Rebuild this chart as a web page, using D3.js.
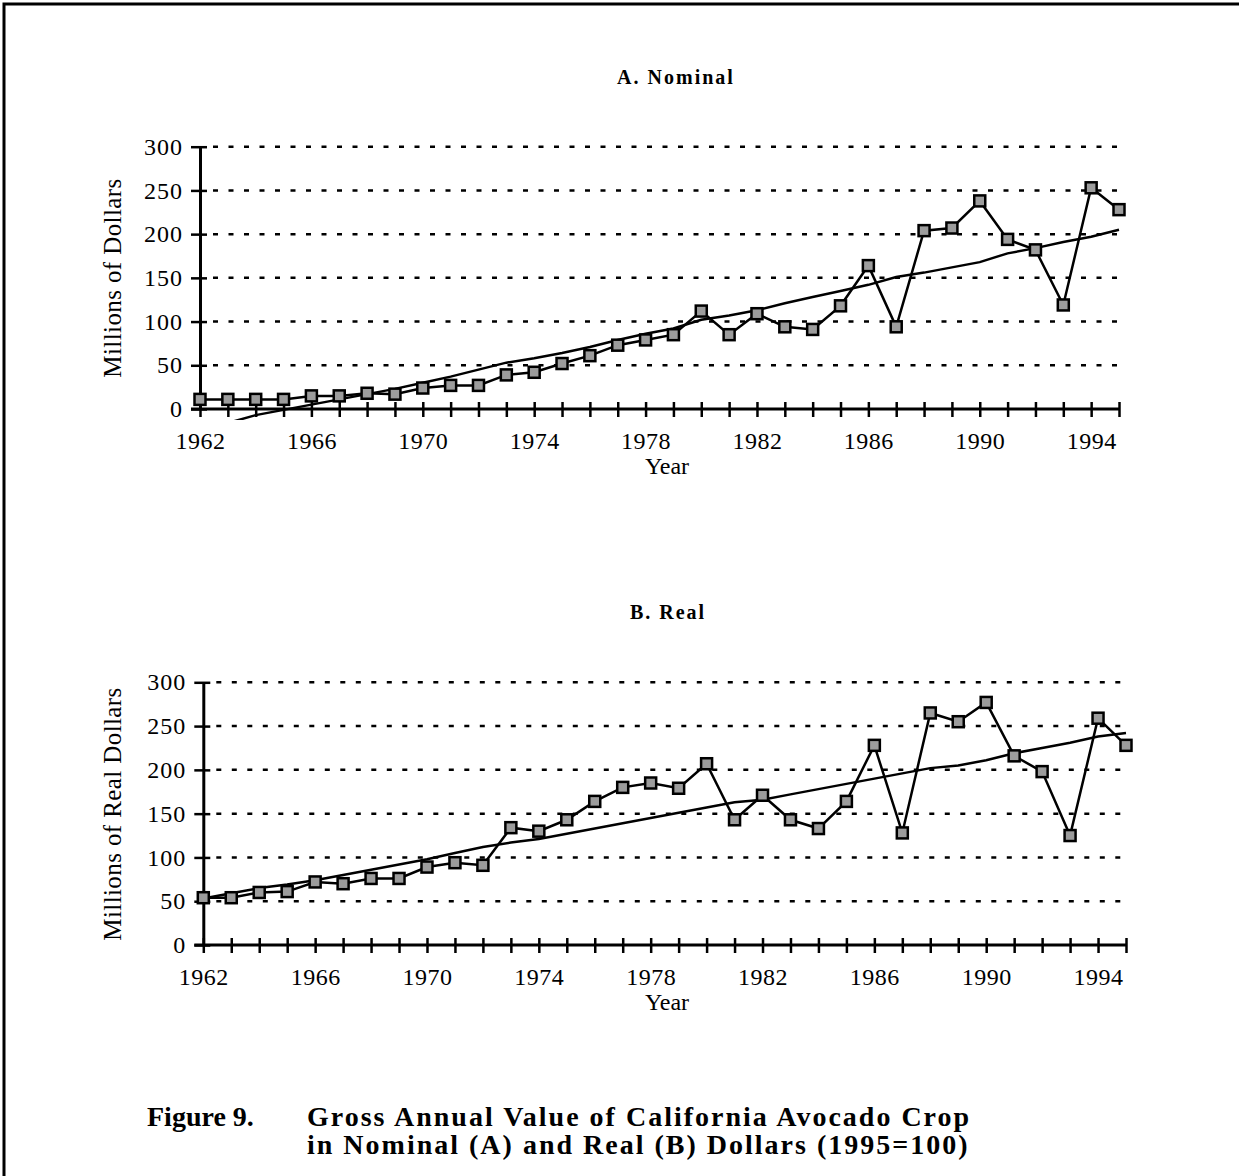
<!DOCTYPE html>
<html>
<head>
<meta charset="utf-8">
<script src="https://cdn.jsdelivr.net/npm/d3@7"></script>
<style>
  body { margin: 0; background: #fff; }
  text { font-family: "Liberation Serif", "Times New Roman", serif; fill: #000; }
</style>
</head>
<body>
<script>
// ### Data #################################################################
var years = [1962, 1963, 1964, 1965, 1966, 1967, 1968, 1969, 1970, 1971, 1972,
             1973, 1974, 1975, 1976, 1977, 1978, 1979, 1980, 1981, 1982, 1983,
             1984, 1985, 1986, 1987, 1988, 1989, 1990, 1991, 1992, 1993, 1994, 1995];
var yearLabels = [1962, 1966, 1970, 1974, 1978, 1982, 1986, 1990, 1994];
var valueTicks = [0, 50, 100, 150, 200, 250, 300];

// A. Nominal (millions of dollars), 1962-1995
var nominalValues = [11, 11, 11, 11, 15, 15, 18, 17, 24, 27, 27,
                     39, 42, 52, 61, 73, 79, 85, 112, 85, 109, 94,
                     91, 118, 164, 94, 204, 207, 238, 194, 182, 119, 253, 228];
// trend line for nominal, 1963-1995
var nominalTrendYears = years.slice(1);
var nominalTrend = [-16, -7, -1, 5, 11, 17, 23, 30, 37, 45,
                    53, 58, 64, 71, 79, 86, 92, 102, 107, 113, 121,
                    128, 135, 142, 151, 156, 162, 168, 178, 184, 191, 197, 205];

// B. Real (millions of 1995 dollars), 1962-1995
var realValues = [54, 54, 60, 61, 72, 70, 76, 76, 89, 94, 91,
                  134, 130, 143, 164, 180, 185, 179, 207, 143, 171, 143,
                  133, 164, 228, 128, 265, 255, 277, 216, 198, 125, 259, 228];
var realTrend = [53, 59, 65, 69, 74, 80, 86, 92, 98, 105, 112,
                 117, 121, 127, 133, 139, 145, 151, 157, 163, 166, 172,
                 178, 184, 190, 196, 202, 205, 211, 219, 225, 231, 238, 242];

var captionLabel = "Figure 9.";
var captionLines = ["Gross Annual Value of California Avocado Crop",
                    "in Nominal (A) and Real (B) Dollars (1995=100)"];

// ### Canvas ###############################################################
var svg = d3.select("body").append("svg")
    .attr("width", 1239)
    .attr("height", 1176);

svg.append("rect").attr("width", 1239).attr("height", 1176).style("fill", "#fff");

// page frame (only top and left edges visible)
svg.append("path")
    .attr("d", "M4,1176 L4,4 L1239,4")
    .style("fill", "none")
    .style("stroke", "#000")
    .style("stroke-width", 3);

// ### Panel ################################################################
function drawPanel(options){
    var left   = options.left,
        right  = options.right,
        top    = options.top,
        bottom = options.bottom,
        id     = options.id;

    var x = d3.scaleLinear().domain([1962, 1995]).range([left, right]);
    var y = d3.scaleLinear().domain([0, 300]).range([bottom, top]);

    var g = svg.append("g");

    // title
    g.append("text")
        .attr("x", options.titleX)
        .attr("y", top - 63)
        .attr("text-anchor", "middle")
        .style("font-size", "20px")
        .style("font-weight", "bold")
        .style("letter-spacing", "2px")
        .text(options.title);

    // dashed grid lines
    g.selectAll(".grid")
        .data(valueTicks.filter(function(d){ return d > 0; }))
        .enter().append("line")
        .attr("class", "grid")
        .attr("x1", left + 13)
        .attr("x2", right)
        .attr("y1", function(d){ return y(d); })
        .attr("y2", function(d){ return y(d); })
        .style("stroke", "#000")
        .style("stroke-width", 2.5)
        .style("stroke-dasharray", "5,10.5");

    // y axis
    var yAxis = d3.axisLeft(y)
        .tickValues(valueTicks)
        .tickSizeInner(9)
        .tickSizeOuter(0)
        .tickPadding(8);
    var ya = g.append("g")
        .attr("transform", "translate(" + left + ",0)")
        .call(yAxis);
    ya.select(".domain").style("stroke-width", 3);
    ya.selectAll(".tick line").attr("x2", 7).attr("x1", -9).style("stroke-width", 2.5);
    ya.selectAll(".tick text")
        .style("font-family", "'Liberation Serif', serif")
        .style("font-size", "24px")
        .style("letter-spacing", "1px");

    // x axis
    var xAxis = d3.axisBottom(x)
        .tickValues(years)
        .tickSizeInner(8)
        .tickSizeOuter(0)
        .tickPadding(15)
        .tickFormat(function(d){ return yearLabels.indexOf(d) >= 0 ? d : ""; });
    var xa = g.append("g")
        .attr("transform", "translate(0," + bottom + ")")
        .call(xAxis);
    xa.select(".domain").remove();
    xa.append("line")
        .attr("x1", left - 9)
        .attr("x2", right)
        .style("stroke", "#000")
        .style("stroke-width", 3);
    xa.selectAll(".tick line").attr("y1", -7).attr("y2", 8).style("stroke-width", 2.5);
    xa.selectAll(".tick text")
        .style("font-family", "'Liberation Serif', serif")
        .style("font-size", "24px")
        .style("letter-spacing", "0.5px");

    // axis titles
    g.append("text")
        .attr("x", options.xTitleX)
        .attr("y", bottom + 65)
        .attr("text-anchor", "middle")
        .style("font-size", "24px")
        .text("Year");

    g.append("text")
        .attr("transform", "translate(" + 121 + "," + options.yTitleY + ") rotate(-90)")
        .attr("text-anchor", "middle")
        .style("font-size", "25px")
        .style("letter-spacing", "0.4px")
        .text(options.yTitle);

    // clip for the trend line
    g.append("clipPath")
        .attr("id", "clip-" + id)
        .append("rect")
        .attr("x", left - 10)
        .attr("y", top - 10)
        .attr("width", right - left + 20)
        .attr("height", bottom - top + 21);

    var line = d3.line()
        .x(function(d){ return x(d[0]); })
        .y(function(d){ return y(d[1]); });

    // series with markers
    var series = d3.zip(years, options.values);
    var trend  = d3.zip(options.trendYears, options.trend);

    g.append("path")
        .datum(series)
        .attr("d", line)
        .style("fill", "none")
        .style("stroke", "#000")
        .style("stroke-width", 2.5)
        .style("stroke-linejoin", "miter");

    g.append("path")
        .datum(trend)
        .attr("clip-path", "url(#clip-" + id + ")")
        .attr("d", line)
        .style("fill", "none")
        .style("stroke", "#000")
        .style("stroke-width", 2.5);

    var size = 11;
    g.selectAll(".marker")
        .data(series)
        .enter().append("rect")
        .attr("class", "marker")
        .attr("x", function(d){ return x(d[0]) - size / 2; })
        .attr("y", function(d){ return y(d[1]) - size / 2; })
        .attr("width", size)
        .attr("height", size)
        .style("fill", "#9c9c9c")
        .style("stroke", "#000")
        .style("stroke-width", 2.5);
}

drawPanel({
    id: "a",
    title: "A. Nominal",
    titleX: 676,
    left: 200, right: 1119, top: 146.7, bottom: 409,
    xTitleX: 667,
    yTitle: "Millions of Dollars",
    yTitleY: 278,
    values: nominalValues,
    trendYears: nominalTrendYears,
    trend: nominalTrend
});

drawPanel({
    id: "b",
    title: "B. Real",
    titleX: 668,
    left: 203.3, right: 1126, top: 682.3, bottom: 945,
    xTitleX: 667,
    yTitle: "Millions of Real Dollars",
    yTitleY: 814,
    values: realValues,
    trendYears: years,
    trend: realTrend
});

// ### Caption ##############################################################
var caption = svg.append("g")
    .style("font-size", "28px")
    .style("font-weight", "bold");

caption.append("text")
    .attr("x", 147)
    .attr("y", 1126)
    .text(captionLabel);

caption.selectAll(".caption-line")
    .data(captionLines)
    .enter().append("text")
    .attr("class", "caption-line")
    .attr("x", 307)
    .attr("y", function(d, i){ return 1126 + i * 28; })
    .style("letter-spacing", "2px")
    .text(function(d){ return d; });
</script>
</body>
</html>
